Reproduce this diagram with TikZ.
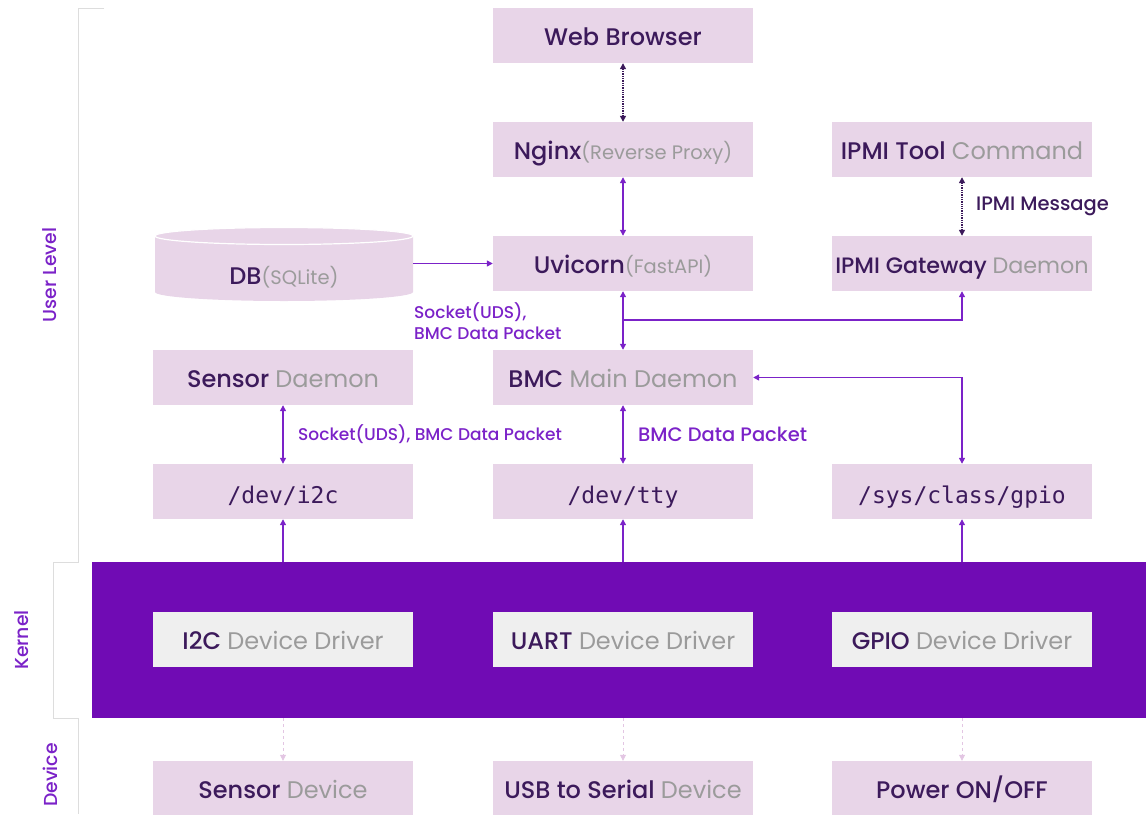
\documentclass[tikz,border=0pt]{standalone}
\usepackage{fontspec}
\setmainfont{Poppins}
\newfontfamily\popmed{Poppins Medium}
\newfontfamily\popreg{Poppins}
\setmonofont{DejaVu Sans Mono}
\usetikzlibrary{arrows.meta}

\definecolor{boxpink}{HTML}{E8D5E8}
\definecolor{txtdark}{HTML}{3C1A5B}
\definecolor{txtgray}{HTML}{9B9B9B}
\definecolor{kernpurple}{HTML}{700BB4}
\definecolor{linepurple}{HTML}{7B22C8}
\definecolor{drvgray}{HTML}{EFEFEF}
\definecolor{brkgray}{HTML}{DDDDDD}
\definecolor{devline}{HTML}{E3C6E3}

\newcommand{\sub}[1]{{\color{txtgray}\popreg #1}}
\newcommand{\subsmall}[1]{{\color{txtgray}\popreg\fontsize{19.5}{22}\selectfont #1}}

\tikzset{
  box/.style={fill=boxpink, minimum width=260pt, minimum height=55pt, inner sep=0pt,
    text height=21pt, text depth=1pt,
    text=txtdark, font=\popmed\fontsize{24}{28}\selectfont},
  monobox/.style={box, text height=24pt, text depth=1pt,
    font=\ttfamily\fontsize{23}{27}\selectfont},
  drvbox/.style={box, fill=drvgray},
  flow/.style={linepurple, line width=1.3pt},
  msg/.style={txtdark, line width=1.3pt, densely dotted},
  hw/.style={devline, line width=0.8pt, dashed, -{Triangle[length=6pt,width=6pt]}},
  tip/.style={{Triangle[length=6pt,width=6pt]}-{Triangle[length=6pt,width=6pt]}},
  uptip/.style={-{Triangle[length=6pt,width=6pt]}},
  lbl/.style={linepurple, anchor=west, inner sep=0pt, align=left,
    font=\popmed\fontsize{19.5}{22}\selectfont},
  smalllbl/.style={lbl, font=\popmed\fontsize{17}{21}\selectfont},
  level/.style={linepurple, rotate=90, font=\popmed\fontsize{18.8}{21}\selectfont}
}

\begin{document}
\begin{tikzpicture}[x=1pt,y=-1pt]
  \useasboundingbox (0,0) rectangle (1146,814);

  % Level bracket
  \draw[brkgray, line width=1pt] (104,8) -- (78,8) -- (78,562) -- (53,562)
    -- (53,718) -- (78,718) -- (78,814);
  \node[level] (user) at (50,275) {User Level};
  \node[level] (kern) at (22,640) {Kernel};
  \node[level] (dev) at (50,775) {Device};

  % Kernel block
  \node[fill=kernpurple, minimum width=1054pt, minimum height=156pt, inner sep=0pt]
    (kernel) at (619,640) {};

  % User level boxes
  \node[box] (web) at (623,35.5) {Web Browser};
  \node[box] (nginx) at (623,149.5) {Nginx\subsmall{(Reverse Proxy)}};
  \node[box] (uvi) at (623,263.5) {Uvicorn\subsmall{(FastAPI)}};
  \node[box] (tool) at (962,149.5) {IPMI Tool \sub{Command}};
  \node[box, font=\popmed\fontsize{22.3}{26}\selectfont] (gw) at (962,263.5)
    {IPMI Gateway \sub{Daemon}};
  \node[box] (sensor) at (283,377.5) {Sensor \sub{Daemon}};
  \node[box] (bmc) at (623,377.5) {BMC \sub{Main Daemon}};
  \node[monobox] (i2c) at (283,491.5) {/dev/i2c};
  \node[monobox] (tty) at (623,491.5) {/dev/tty};
  \node[monobox] (gpio) at (962,491.5) {/sys/class/gpio};

  % DB cylinder
  \node[minimum width=258pt, minimum height=73pt, inner sep=0pt] (db) at (284,263.5) {};
  \fill[boxpink] (155,236) -- (155,292) arc[start angle=180, end angle=0, x radius=129, y radius=9]
    -- (413,236) -- cycle;
  \draw[white, line width=1.2pt, fill=boxpink] (284,236) ellipse [x radius=129, y radius=8.5];
  \node[text=txtdark, font=\popmed\fontsize{24}{28}\selectfont] (dbtxt) at ([yshift=-14pt]db.center)
    {DB\subsmall{(SQLite)}};

  % Kernel drivers
  \node[drvbox] (i2cdrv) at (283,639.5) {I2C \sub{Device Driver}};
  \node[drvbox] (uartdrv) at (623,639.5) {UART \sub{Device Driver}};
  \node[drvbox] (gpiodrv) at (962,639.5) {GPIO \sub{Device Driver}};

  % Devices
  \node[box] (sensdev) at (283,788.5) {Sensor \sub{Device}};
  \node[box] (usbdev) at (623,788.5) {USB to Serial \sub{Device}};
  \node[box] (power) at (962,788.5) {Power ON/OFF};

  % Connections
  \draw[msg, tip] (web) -- (nginx);
  \draw[msg, tip] (tool) -- (gw);
  \draw[flow, tip] (nginx) -- (uvi);
  \draw[flow, tip] (uvi) -- (bmc);
  \draw[flow, uptip] (db.east) -- (uvi.west);
  \coordinate (split) at (623,320);
  \draw[flow, uptip] (split) -| (gw.south);
  \draw[flow, tip] (bmc.east) -| (gpio.north);
  \draw[flow, tip] (sensor) -- (i2c);
  \draw[flow, tip] (bmc) -- (tty);
  \foreach \n in {i2c, tty, gpio}
    \draw[flow, uptip] (\n.south |- kernel.north) -- (\n.south);
  \draw[hw] (i2cdrv.south |- kernel.south) -- (sensdev.north);
  \draw[hw] (uartdrv.south |- kernel.south) -- (usbdev.north);
  \draw[hw] (gpiodrv.south |- kernel.south) -- (power.north);

  % Labels
  \node[lbl, text=txtdark] (ipmimsg) at (976,206) {IPMI Message};
  \node[smalllbl] (uds1) at (414,321) {Socket(UDS),\\BMC Data Packet};
  \node[smalllbl] (uds2) at (298,434) {Socket(UDS), BMC Data Packet};
  \node[lbl] (pkt) at (638,434) {BMC Data Packet};
\end{tikzpicture}
\end{document}
